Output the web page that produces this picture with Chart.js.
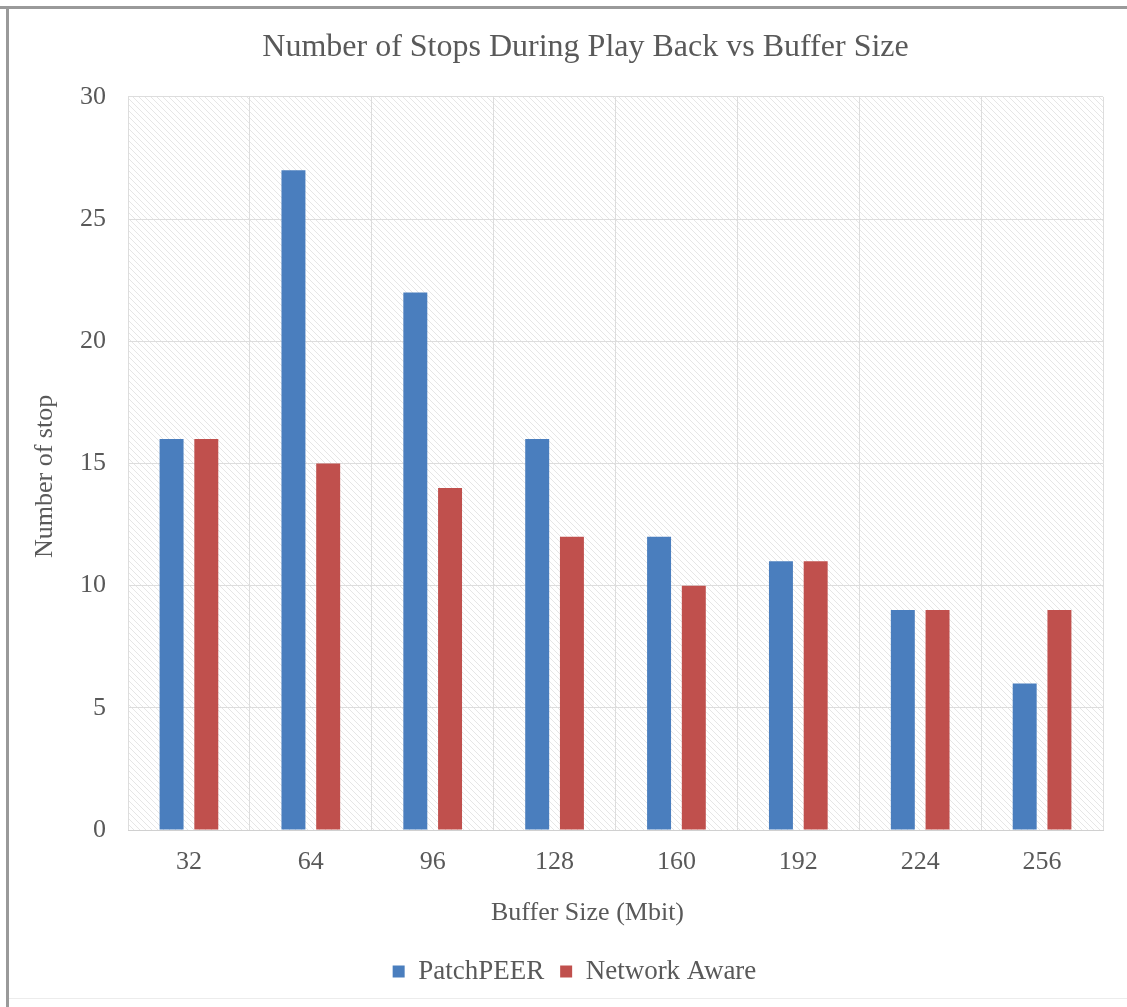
<!DOCTYPE html>
<html>
<head>
<meta charset="utf-8">
<script src="https://cdn.jsdelivr.net/npm/chart.js@4.4.1/dist/chart.umd.min.js"></script>
<style>
  html, body { margin: 0; padding: 0; background: #fff; }
  #wrap { position: relative; width: 1127px; height: 1007px; }
</style>
</head>
<body>
<div id="wrap"><canvas id="c" width="1127" height="1007"></canvas></div>
<script>
// Buffer sizes (Mbit) and number of playback stops per scheme
const bufferSizes = ['32', '64', '96', '128', '160', '192', '224', '256'];
const patchPeerStops = [16, 27, 22, 16, 12, 11, 9, 6];
const networkAwareStops = [16, 15, 14, 12, 10, 11, 9, 9];
const yTicks = [0, 5, 10, 15, 20, 25, 30];

const xTitle = 'Buffer Size (Mbit)';
const yTitle = 'Number of stop';

const serif = "'Liberation Serif', 'DejaVu Serif', serif";
const textGray = '#595959';

// Light diagonal hatch used to fill the plot area
function hatchPattern(ctx) {
  const p = document.createElement('canvas');
  p.width = 6; p.height = 6;
  const g = p.getContext('2d');
  g.fillStyle = '#ffffff';
  g.fillRect(0, 0, 6, 6);
  g.strokeStyle = '#e6e6e6';
  g.lineWidth = 1;
  g.beginPath();
  g.moveTo(-1, -1); g.lineTo(7, 7);
  g.moveTo(-1, 5); g.lineTo(1, 7);
  g.moveTo(5, -1); g.lineTo(7, 1);
  g.stroke();
  return ctx.createPattern(p, 'repeat');
}

const backdrop = {
  id: 'backdrop',
  afterLayout(chart) {
    // centre the heading and legend over the whole figure rather than the plot
    const shiftTitle = 34, shiftLegend = 23;
    if (chart.titleBlock) { chart.titleBlock.left += shiftTitle; chart.titleBlock.right += shiftTitle; }
    if (chart.legend) { chart.legend.left += shiftLegend; chart.legend.right += shiftLegend; }
  },
  beforeDraw(chart) {
    const { ctx, chartArea: a, width, height } = chart;
    ctx.save();
    ctx.fillStyle = '#ffffff';
    ctx.fillRect(0, 0, width, height);
    // frame edges
    ctx.fillStyle = '#9a9a9a';
    ctx.fillRect(0, 6, width, 3);
    ctx.fillRect(6, 6, 3, height - 6);
    ctx.fillStyle = '#ececec';
    ctx.fillRect(9, height - 9, width - 9, 1);
    // hatched plot area
    ctx.fillStyle = hatchPattern(ctx);
    ctx.fillRect(a.left, a.top, a.right - a.left, a.bottom - a.top);
    ctx.restore();
  },
  afterDraw(chart) {
    const { ctx, chartArea: a } = chart;
    ctx.save();
    ctx.fillStyle = textGray;
    ctx.font = '26px ' + serif;
    ctx.textAlign = 'center';
    ctx.textBaseline = 'middle';
    // axis titles
    ctx.fillText(xTitle, (a.left + a.right) / 2 - 28, a.bottom + 83);
    ctx.translate(45, (a.top + a.bottom) / 2 + 13);
    ctx.rotate(-Math.PI / 2);
    ctx.fillText(yTitle, 0, 0);
    ctx.restore();
  }
};

new Chart(document.getElementById('c'), {
  type: 'bar',
  data: {
    labels: bufferSizes,
    datasets: [
      { label: 'PatchPEER', data: patchPeerStops, backgroundColor: '#4a7ebe' },
      { label: 'Network Aware', data: networkAwareStops, backgroundColor: '#c0504d' }
    ]
  },
  plugins: [backdrop],
  options: {
    responsive: false,
    animation: false,
    devicePixelRatio: 1,
    datasets: { bar: { categoryPercentage: 0.57, barPercentage: 0.69 } },
    layout: { padding: { left: 0, right: 24, top: 0, bottom: 12 } },
    plugins: {
      title: {
        display: true,
        text: 'Number of Stops During Play Back vs Buffer Size',
        color: textGray,
        font: { family: serif, size: 32, weight: 'normal' },
        padding: { top: 28, bottom: 30.5 }
      },
      legend: {
        position: 'bottom',
        labels: {
          color: textGray,
          font: { family: serif, size: 27 },
          boxWidth: 12, boxHeight: 12, padding: 16
        }
      },
      tooltip: { enabled: false }
    },
    scales: {
      x: {
        grid: { color: '#dddddd', lineWidth: 1, drawTicks: false },
        border: { display: true, color: '#d0d0d0' },
        ticks: { color: textGray, font: { family: serif, size: 26 }, padding: 17 },
        afterFit(s) { s.height = 112; }
      },
      y: {
        min: 0, max: 30,
        afterBuildTicks(s) { s.ticks = yTicks.map(v => ({ value: v })); },
        grid: { color: '#dddddd', lineWidth: 1, drawTicks: false },
        border: { display: false },
        ticks: { color: textGray, font: { family: serif, size: 26 }, padding: 22 },
        afterFit(s) { s.width = 128; }
      }
    }
  }
});
</script>
</body>
</html>
